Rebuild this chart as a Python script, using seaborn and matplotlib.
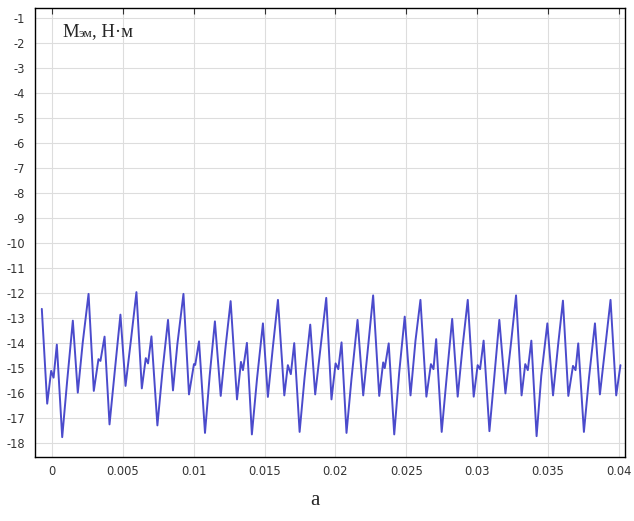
import numpy as np
import pandas as pd
import seaborn as sns
import matplotlib
matplotlib.use("Agg")
import matplotlib.pyplot as plt

# time in ms, torque in N*m
time_ms = [
    -0.73, -0.35, -0.07, 0.10, 0.33, 0.71, 1.06, 1.46, 1.81, 2.16, 2.57,
    2.94, 3.27, 3.41, 3.70, 4.05, 4.40, 4.82, 5.18, 5.57, 5.95,
    6.33, 6.61, 6.77, 7.01, 7.43, 7.79, 8.18, 8.53, 8.84, 9.27,
    9.66, 10.01, 10.10, 10.37, 10.79, 11.12, 11.49, 11.90, 12.25, 12.60,
    13.05, 13.33, 13.47, 13.75, 14.10, 14.46, 14.88, 15.23, 15.58, 15.94,
    16.39, 16.64, 16.85, 17.09, 17.47, 17.82, 18.22, 18.57, 18.97, 19.35,
    19.72, 20.01, 20.20, 20.43, 20.78, 21.13, 21.56, 21.96, 22.31, 22.66,
    23.09, 23.37, 23.48, 23.76, 24.15, 24.50, 24.89, 25.30, 25.65, 26.00,
    26.42, 26.74, 26.92, 27.11, 27.50, 27.86, 28.24, 28.63, 28.98, 29.34,
    29.76, 30.04, 30.21, 30.46, 30.87, 31.22, 31.57, 32.00, 32.40, 32.75,
    33.14, 33.40, 33.58, 33.83, 34.20, 34.53, 34.96, 35.36, 35.73, 36.06,
    36.44, 36.77, 36.95, 37.14, 37.54, 37.90, 38.32, 38.67, 39.07, 39.42,
    39.82, 40.12,
]
torque = [
    -12.64, -16.43, -15.12, -15.39, -14.07, -17.77, -15.52, -13.11, -15.99, -13.98, -12.04,
    -15.92, -14.65, -14.72, -13.75, -17.26, -15.25, -12.87, -15.72, -13.85, -11.97,
    -15.82, -14.61, -14.82, -13.74, -17.30, -15.12, -13.08, -15.90, -14.05, -12.04,
    -16.06, -14.85, -14.88, -13.94, -17.60, -15.32, -13.14, -16.12, -14.12, -12.33,
    -16.26, -14.76, -15.09, -14.00, -17.66, -15.45, -13.22, -16.16, -14.18, -12.28,
    -16.10, -14.89, -15.25, -14.01, -17.56, -15.39, -13.27, -16.06, -14.07, -12.20,
    -16.26, -14.82, -15.05, -13.98, -17.60, -15.45, -13.08, -16.10, -14.12, -12.10,
    -16.12, -14.78, -15.01, -14.02, -17.66, -15.19, -12.95, -16.10, -13.91, -12.28,
    -16.15, -14.85, -15.05, -13.85, -17.56, -15.32, -13.04, -16.15, -14.12, -12.28,
    -16.15, -14.89, -15.05, -13.91, -17.53, -15.32, -13.08, -16.02, -13.98, -12.10,
    -16.10, -14.85, -15.09, -13.91, -17.73, -15.32, -13.22, -16.10, -14.02, -12.31,
    -16.12, -14.92, -15.09, -14.02, -17.56, -15.39, -13.22, -16.06, -14.05, -12.28,
    -16.10, -14.89,
]

x_ticks = [0, 0.005, 0.01, 0.015, 0.02, 0.025, 0.03, 0.035, 0.04]
x_labels = ["0", "0.005", "0.01", "0.015", "0.02", "0.025", "0.03", "0.035", "0.04"]
y_ticks = list(range(-1, -19, -1))

df = pd.DataFrame({"t": np.array(time_ms) / 1000.0, "M": torque})

sns.set_style("white")
plt.rcParams["font.family"] = ["DejaVu Sans"]
plt.rcParams["axes.unicode_minus"] = False

fig = plt.figure(figsize=(6.34, 5.21), dpi=100)
ax = fig.add_axes([0.055, 0.123, 0.931, 0.862])

sns.lineplot(data=df, x="t", y="M", ax=ax, color="#4b4bcc", linewidth=1.4,
             sort=False, estimator=None, solid_joinstyle="round")

ax.set_xlim(-0.00122, 0.04045)
ax.set_ylim(-18.56, -0.6)
ax.set_xticks(x_ticks)
ax.set_xticklabels(x_labels)
ax.set_yticks(y_ticks)
ax.set_yticklabels([str(v) for v in y_ticks])
ax.grid(True, color="#dddddd", linewidth=0.8)
ax.set_xlabel("")
ax.set_ylabel("")

for s in ax.spines.values():
    s.set_color("black")
    s.set_linewidth(1.0)
ax.tick_params(axis="both", labelsize=8.3, colors="#333333", length=4, width=0.8,
               direction="in", top=True, right=True, pad=6)
ax.tick_params(axis="y", direction="out", right=False, pad=3)

# axis title inside plot: M with subscript "эм"
t1 = ax.text(0.046, 0.965, "M", transform=ax.transAxes, fontsize=13.5,
             family="Liberation Serif", va="top", ha="left")
t2 = ax.annotate("эм", xy=(1, 0), xycoords=t1, xytext=(0, 0.5),
                 textcoords="offset points", fontsize=9.5,
                 family="Liberation Serif", va="bottom", ha="left")
ax.annotate(", Н·м", xy=(1, 0), xycoords=t2, xytext=(0, -0.5),
            textcoords="offset points", fontsize=13.5,
            family="Liberation Serif", va="bottom", ha="left")

fig.text(0.497, 0.022, "а", fontsize=15, family="Liberation Serif",
         ha="center", va="bottom")

fig.savefig("out.png", dpi=100)
